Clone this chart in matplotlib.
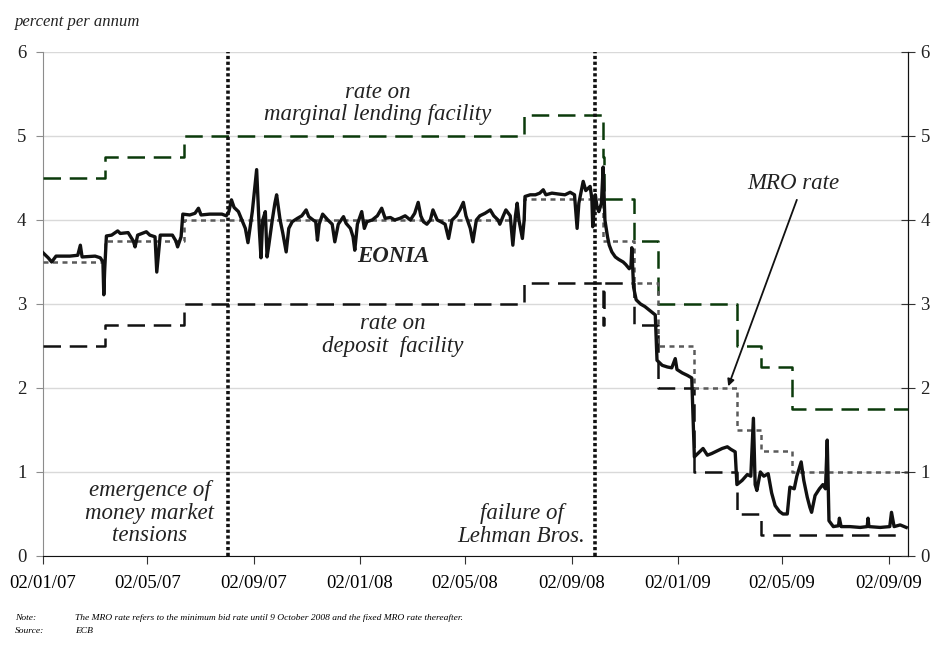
import numpy as np
import matplotlib
matplotlib.use('Agg')
import matplotlib.pyplot as plt
import matplotlib.dates as mdates

plt.rcParams['font.family'] = ['Liberation Serif', 'DejaVu Serif']

# ---------------- data ----------------
start = '2007-01-02'
end = '2009-09-24'

# key ECB rates: dates of change and new level
mlf_dates = ['2007-01-02', '2007-03-14', '2007-06-13', '2008-07-09', '2008-10-08',
             '2008-10-09', '2008-11-12', '2008-12-10', '2009-03-11', '2009-04-08',
             '2009-05-13', end]
mlf_vals = [4.50, 4.75, 5.00, 5.25, 4.75, 4.25, 3.75, 3.00, 2.50, 2.25, 1.75, 1.75]

mro_dates = ['2007-01-02', '2007-03-14', '2007-06-13', '2008-07-09', '2008-10-08',
             '2008-11-12', '2008-12-10', '2009-01-21', '2009-03-11', '2009-04-08',
             '2009-05-13', end]
mro_vals = [3.50, 3.75, 4.00, 4.25, 3.75, 3.25, 2.50, 2.00, 1.50, 1.25, 1.00, 1.00]

df_dates = ['2007-01-02', '2007-03-14', '2007-06-13', '2008-07-09', '2008-10-08',
            '2008-10-09', '2008-11-12', '2008-12-10', '2009-01-21', '2009-03-11',
            '2009-04-08', '2009-09-12']
df_vals = [2.50, 2.75, 3.00, 3.25, 2.75, 3.25, 2.75, 2.00, 1.00, 0.50, 0.25, 0.25]

# EONIA: days since 02/01/07 and level (percent)
eonia_day = [0, 6, 10, 15, 31, 40, 43, 45, 60, 66, 69, 70, 71, 73, 79, 86, 89, 98,
             104, 106, 109, 119, 123, 129, 131, 135, 149, 153, 155, 159, 161, 169,
             175, 179, 182, 192, 206, 211, 214, 217, 220, 225, 229, 233, 236, 241,
             244, 246, 249, 251, 253, 256, 258, 260, 264, 267, 269, 273, 276, 280,
             283, 287, 293, 298, 303, 306, 311, 314, 316, 318, 322, 328, 333, 336,
             340, 346, 349, 354, 357, 359, 362, 367, 370, 373, 379, 385, 390, 394,
             400, 405, 411, 417, 423, 428, 432, 435, 438, 442, 446, 449, 454, 458,
             463, 467, 471, 476, 480, 484, 487, 492, 495, 499, 503, 509, 515, 519,
             524, 526, 530, 533, 538, 541, 544, 546, 548, 552, 554, 555, 561, 567,
             572, 576, 579, 586, 593, 601, 607, 612, 615, 617, 620, 622, 625, 630,
             632, 633, 636, 638, 640, 643, 645, 647, 650, 652, 655, 659, 663, 668,
             671, 675, 677, 678, 680, 683, 688, 693, 699, 705, 707, 713, 719, 724,
             728, 730, 736, 742, 747, 750, 754, 760, 765, 770, 776, 782, 788, 792,
             797, 799, 805, 811, 815, 818, 820, 822, 826, 830, 835, 839, 843, 848,
             852, 857, 860, 865, 868, 873, 876, 880, 883, 885, 889, 894, 898, 901,
             903, 905, 910, 916, 917, 919, 929, 941, 949, 950, 951, 964, 975, 977,
             980, 987, 994]
eonia_val = [3.61, 3.55, 3.50, 3.57, 3.57, 3.58, 3.70, 3.56, 3.57, 3.55, 3.50, 3.11,
             3.40, 3.81, 3.82, 3.87, 3.84, 3.85, 3.75, 3.68, 3.82, 3.86, 3.82, 3.80,
             3.38, 3.82, 3.82, 3.75, 3.68, 3.80, 4.07, 4.06, 4.08, 4.14, 4.06, 4.07,
             4.07, 4.05, 4.10, 4.24, 4.15, 4.10, 4.00, 3.90, 3.73, 4.10, 4.40, 4.60,
             3.90, 3.55, 4.00, 4.10, 3.56, 3.70, 4.00, 4.20, 4.30, 4.00, 3.85, 3.62,
             3.90, 3.98, 4.02, 4.05, 4.12, 4.04, 4.00, 3.98, 3.76, 3.95, 4.07, 4.00,
             3.95, 3.74, 3.95, 4.04, 3.96, 3.90, 3.80, 3.64, 3.95, 4.10, 3.90, 3.98,
             4.00, 4.05, 4.14, 4.02, 4.03, 4.00, 4.02, 4.05, 4.00, 4.08, 4.21, 4.05,
             3.98, 3.95, 4.00, 4.12, 4.00, 3.98, 3.95, 3.78, 4.00, 4.05, 4.12, 4.21,
             4.05, 3.90, 3.74, 4.00, 4.05, 4.08, 4.12, 4.05, 4.00, 3.95, 4.05, 4.12,
             4.05, 3.70, 4.05, 4.20, 4.00, 3.78, 4.00, 4.28, 4.30, 4.30, 4.32, 4.36,
             4.30, 4.32, 4.31, 4.30, 4.33, 4.30, 3.90, 4.20, 4.36, 4.46, 4.35, 4.40,
             4.25, 3.92, 4.30, 4.15, 4.10, 4.20, 4.63, 4.00, 3.80, 3.70, 3.62, 3.56,
             3.53, 3.50, 3.47, 3.42, 3.45, 3.67, 3.20, 3.05, 3.00, 2.97, 2.92, 2.87,
             2.33, 2.27, 2.25, 2.24, 2.35, 2.22, 2.18, 2.15, 2.12, 1.18, 1.22, 1.28,
             1.20, 1.22, 1.25, 1.28, 1.30, 1.27, 1.24, 0.85, 0.90, 0.97, 0.95, 1.64,
             0.85, 0.78, 1.00, 0.95, 0.98, 0.75, 0.60, 0.53, 0.50, 0.50, 0.82, 0.80,
             0.95, 1.12, 0.90, 0.70, 0.58, 0.52, 0.72, 0.80, 0.85, 0.80, 1.38, 0.42,
             0.35, 0.36, 0.45, 0.35, 0.35, 0.34, 0.35, 0.45, 0.35, 0.34, 0.35, 0.52,
             0.35, 0.37, 0.34]

event_dates = ['2007-08-03', '2008-09-29']
tick_dates = ['2007-01-02', '2007-05-02', '2007-09-02', '2008-01-02', '2008-05-02',
              '2008-09-02', '2009-01-02', '2009-05-02', '2009-09-02']


def dnum(dates):
    return mdates.date2num(np.array(dates, dtype='datetime64[D]'))


t0 = dnum([start])[0]

fig = plt.figure(figsize=(9.32, 6.61), dpi=100)
ax = fig.add_axes([43/932, 1 - 556/661, 865/932, 504/661])

ax.set_axisbelow(True)
ax.grid(axis='y', color='#d9d9d9', lw=1.0)

green = '#0b3a0b'
ax.plot(dnum(mlf_dates), mlf_vals, drawstyle='steps-post', color=green, lw=1.8,
        dashes=(7, 3.5), zorder=3)
ax.plot(dnum(df_dates), df_vals, drawstyle='steps-post', color='#111111', lw=1.8,
        dashes=(7, 3.5), zorder=3)
ax.plot(dnum(mro_dates), mro_vals, drawstyle='steps-post', color='#5a5a5a', lw=1.8,
        dashes=(2, 1.8), zorder=3)
ax.plot(t0 + np.array(eonia_day), eonia_val, color='#111111', lw=2.4, zorder=4,
        solid_joinstyle='round')

for d in dnum(event_dates):
    ax.plot([d, d], [0, 6], color='#111111', lw=2.6, dashes=(0.9, 0.7), zorder=5,
            solid_capstyle='butt')

ax.set_xlim(t0, dnum([end])[0])
ax.set_ylim(0, 6)
ax.set_yticks(range(0, 7))
ax.set_xticks(dnum(tick_dates))
ax.xaxis.set_major_formatter(mdates.DateFormatter('%d/%m/%y'))

ax.spines['top'].set_visible(False)
ax.spines['left'].set_color('#8c8c8c')
ax.spines['right'].set_color('#111111')
ax.spines['bottom'].set_color('#111111')
ax.tick_params(axis='x', direction='out', length=6, color='#333333',
               labelsize=13.5, pad=8)
ax.tick_params(axis='y', direction='out', length=5, color='#8c8c8c',
               labelsize=13.5, pad=7, labelcolor='#222222')

ax2 = ax.twinx()
ax2.set_ylim(0, 6)
ax2.set_yticks(range(0, 7))
for s in ['top', 'left', 'bottom']:
    ax2.spines[s].set_visible(False)
ax2.spines['right'].set_color('#111111')
ax2.tick_params(axis='y', direction='inout', length=10, color='#333333',
                labelsize=13.5, pad=4, labelcolor='#222222')

txt = dict(fontsize=16.5, style='italic', ha='center', va='center',
           color='#222222', linespacing=1.08)
ax.text(t0 + 385, 5.39, 'rate on\nmarginal lending facility', **txt)
ax.text(t0 + 403, 3.56, 'EONIA', fontsize=16.5, style='italic', weight='bold',
        ha='center', va='center', color='#222222', zorder=6)
ax.text(t0 + 403, 2.63, 'rate on\ndeposit  facility', **txt)
ax.text(t0 + 123, 0.51, 'emergence of\nmoney market\ntensions', **txt)
ax.text(t0 + 551, 0.37, 'failure of\nLehman Bros.', **txt)
ax.text(t0 + 864, 4.44, 'MRO rate', **txt)
ax.annotate('', xy=(t0 + 789, 2.02), xytext=(t0 + 868, 4.24),
            arrowprops=dict(arrowstyle='-|>', color='#111111', lw=1.3,
                            mutation_scale=10, shrinkA=0, shrinkB=0))

fig.text(15/932, 1 - 22/661, 'percent per annum', style='italic', fontsize=12,
         va='center', color='#222222')
note_y = 1 - 618/661
src_y = 1 - 631/661
fig.text(15/932, note_y, 'Note:', style='italic', fontsize=6.8, va='center')
fig.text(75/932, note_y, 'The MRO rate refers to the minimum bid rate until '
         '9 October 2008 and the fixed MRO rate thereafter.', style='italic',
         fontsize=6.8, va='center')
fig.text(15/932, src_y, 'Source:', style='italic', fontsize=6.8, va='center')
fig.text(75/932, src_y, 'ECB', style='italic', fontsize=6.8, va='center')

fig.savefig('out.png', dpi=100)
